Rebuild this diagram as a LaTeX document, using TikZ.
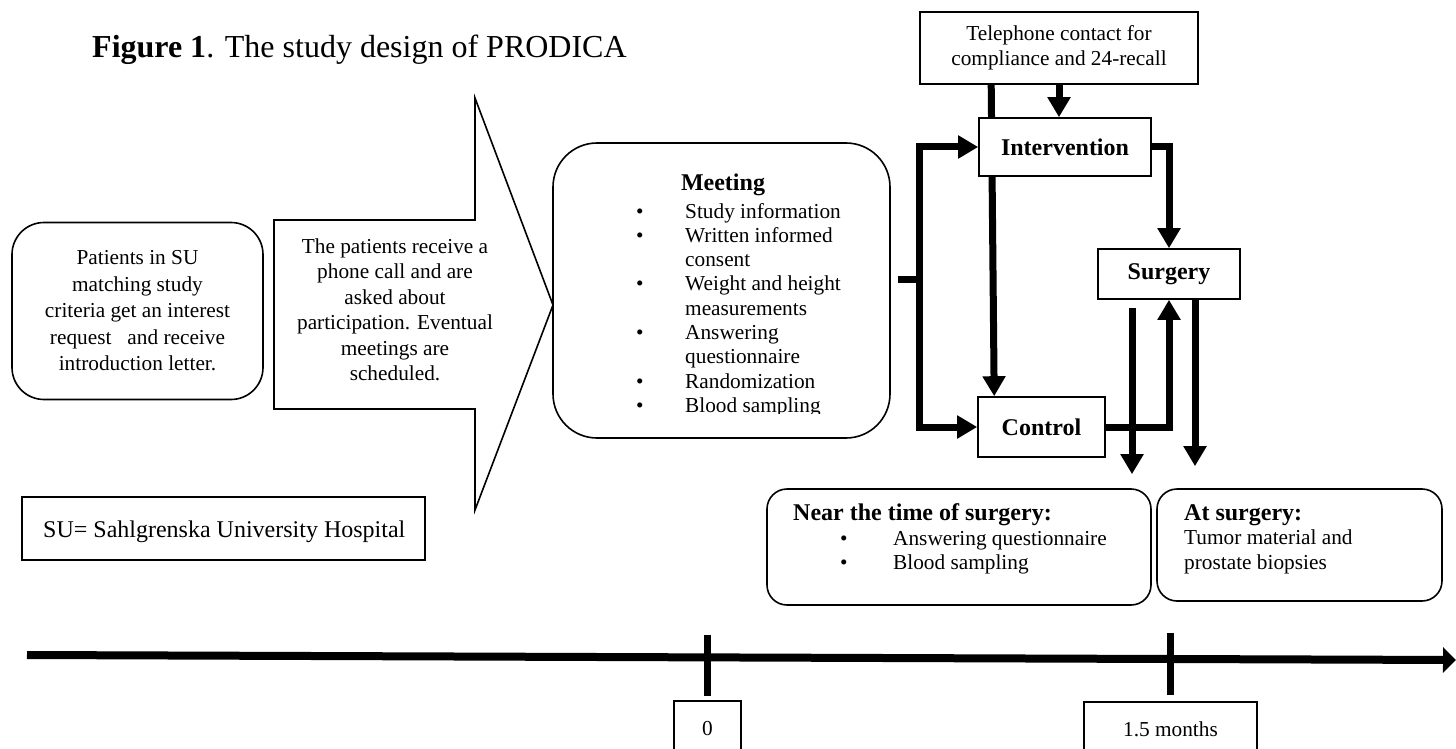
\documentclass[tikz,border=0pt]{standalone}
\usepackage{fontspec}
\setmainfont{Liberation Serif}
\usetikzlibrary{arrows.meta,backgrounds}
\newcommand{\bodysize}{\fontsize{21.3}{25.5}\selectfont}
\newcommand{\hdrsize}{\fontsize{24}{28}\selectfont\bfseries}

\begin{document}
\begin{tikzpicture}[x=1pt, y=-1pt,
  txt/.style={font=\bodysize, align=center},
  hdr/.style={font=\hdrsize},
  plainbox/.style={draw, line width=1.6pt, fill=white, inner sep=0pt},
  roundbox/.style={plainbox, rounded corners=#1},
  roundbox/.default=20pt,
  flow/.style={line width=7pt, -{Triangle[length=20pt,width=22pt]}},
  flowline/.style={line width=7pt},
  timeline/.style={line width=8pt, -{Triangle[length=13pt,width=25pt]}},
  tick/.style={line width=7pt}]
  \useasboundingbox (0,0) rectangle (1456,749);
  \clip (0,0) rectangle (1456,749);
  \node [anchor=base west, inner sep=0pt, font=\fontsize{32}{37}\selectfont] (title) at (92,58) {\textbf{Figure 1}. The study design of PRODICA};

  \node [roundbox=32pt, txt, font=\fontsize{21.3}{26.5}\selectfont, minimum width=251pt, minimum height=177pt] (patients) at (137.5,311) {Patients in SU\\matching study\\criteria get an interest\\request \ \ and receive\\introduction letter.};
  \draw [line width=1.6pt] (274,220) -- (475,220) -- (475,98) -- (553,305) -- (475,510) -- (475,409) -- (274,409) -- cycle;
  \node [txt, inner sep=0pt] (callnote) at (395,310) {The patients receive a\\phone call and are\\asked about\\participation. Eventual\\meetings are\\scheduled.};
  \node [plainbox, minimum width=403pt, minimum height=63pt] (subox) at (223.5,528.5) {};
  \node [anchor=base west, inner sep=0pt, font=\fontsize{24}{28}\selectfont] (sutext) at (43,537) {SU= Sahlgrenska University Hospital};

  \node [roundbox=44pt, minimum width=337pt, minimum height=295pt] (meeting) at (721.5,290.5) {};
  \node [hdr, anchor=base, inner sep=0pt] (meettitle) at (723,190) {Meeting};
  \begin{scope}
    \clip (553,143) rectangle (890,413);
    \node [anchor=base west, inner sep=0pt, font=\fontsize{21.3}{24.3}\selectfont] (meetlist) at (636,218) {\begin{tabular}[t]{@{}p{49pt}@{}l@{}}
      \textbullet & Study information\\
      \textbullet & Written informed\\
       & consent\\
      \textbullet & Weight and height\\
       & measurements\\
      \textbullet & Answering\\
       & questionnaire\\
      \textbullet & Randomization\\
      \textbullet & Blood sampling
    \end{tabular}};
  \end{scope}

  \node [plainbox, txt, minimum width=278pt, minimum height=72pt] (phone) at (1059,48) {Telephone contact for\\compliance and 24-recall};
  \node [plainbox, hdr, minimum width=172pt, minimum height=58pt] (intervention) at (1065,147) {Intervention};
  \node [plainbox, hdr, minimum width=142pt, minimum height=50pt] (surgery) at (1169,274) {Surgery};
  \node [plainbox, hdr, minimum width=127pt, minimum height=60pt] (control) at (1041.5,427) {Control};

  \node [roundbox, minimum width=384pt, minimum height=116pt] (nearbox) at (959,547) {};
  \node [hdr, anchor=base west, inner sep=0pt] (neartitle) at (793,520) {Near the time of surgery:};
  \node [anchor=base west, inner sep=0pt, font=\fontsize{21.3}{24.5}\selectfont] (nearlist) at (840,545) {\begin{tabular}[t]{@{}p{53pt}@{}l@{}}
    \textbullet & Answering questionnaire\\
    \textbullet & Blood sampling
  \end{tabular}};
  \node [roundbox, minimum width=285pt, minimum height=112pt] (atbox) at (1299.5,545) {};
  \node [hdr, anchor=base west, inner sep=0pt] (attitle) at (1184,520) {At surgery:};
  \node [anchor=north west, inner sep=0pt, align=left, font=\fontsize{21.3}{24.5}\selectfont] (atlist) at (1184,530) {Tumor material and\\prostate biopsies};

  \coordinate (fork) at (919,279);
  \draw [flowline] ([xshift=7pt]meeting.east |- fork) -- (fork);
  \draw [flow] (fork) |- (intervention.west);
  \draw [flow] (fork) |- (control.west);
  \draw [flow] (phone.south -| 1059,0) -- (intervention.north -| 1059,0);
  \begin{scope}[on background layer]
    \draw [flow] ([xshift=72pt]phone.south west) -- ([xshift=17pt]control.north west);
  \end{scope}
  \draw [flow] (intervention.east) -| (surgery.north);
  \draw [flow] (control.east) -| (surgery.south);
  \draw [flow] ([xshift=-37pt,yshift=-8pt]surgery.south) coordinate (s1) -- ([yshift=14pt]nearbox.north -| s1);
  \draw [flow] ([xshift=26pt]surgery.south) coordinate (s2) -- ([yshift=22pt]atbox.north -| s2);

  \node [plainbox, txt, minimum width=67pt, minimum height=56pt] (zero) at (707.5,729) {0};
  \node [plainbox, txt, minimum width=173pt, minimum height=54pt] (onefive) at (1170.5,729) {1.5 months};
  \coordinate (tstart) at (27,655);
  \coordinate (tend) at (1456,660);
  \draw [timeline] (tstart) -- (tend);
  \draw [tick] ([yshift=4pt]zero.north) -- ([yshift=65pt]zero.north);
  \draw [tick] ([yshift=6pt]onefive.north) -- ([yshift=68pt]onefive.north);
\end{tikzpicture}
\end{document}
